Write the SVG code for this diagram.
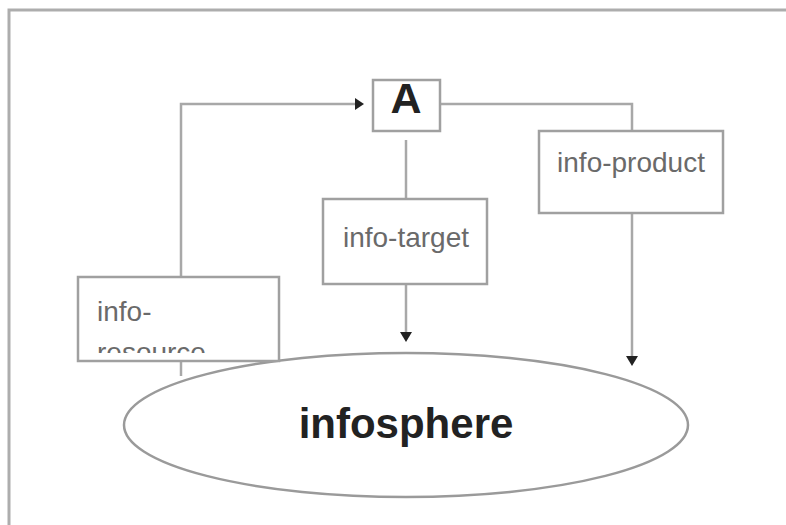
<svg xmlns="http://www.w3.org/2000/svg" width="786" height="525" viewBox="0 0 786 525">
  <defs>
    <style>
      .frame { fill: none; stroke: #adadad; stroke-width: 3; }
      .box { fill: #ffffff; stroke: #a0a0a0; stroke-width: 2.5; }
      .line { fill: none; stroke: #a8a8a8; stroke-width: 2.5; }
      .head { fill: #222222; }
      .lbl { font-family: "Liberation Sans", Arial, sans-serif; font-size: 28px; fill: #6a6a6a; }
      .big { font-family: "Liberation Sans", Arial, sans-serif; font-weight: bold; fill: #222222; }
    </style>
    <clipPath id="resClip">
      <rect x="80" y="278" width="197" height="75"/>
    </clipPath>
  </defs>
  <rect width="786" height="525" fill="#ffffff"/>
  <path class="frame" d="M9,525 V10 H786"/>

  <g id="connectors">
    <path class="line" d="M181,277 V104 H356"/>
    <polygon class="head" points="355,98 364,104 355,110"/>
    <path class="line" d="M440,104 H632 V131"/>
    <path class="line" d="M406,140 V199"/>
    <path class="line" d="M406,284 V333"/>
    <polygon class="head" points="400,332 412,332 406,342"/>
    <path class="line" d="M632,213 V358"/>
    <polygon class="head" points="626,356 638,356 632,366"/>
    <path class="line" d="M181,361 V376"/>
  </g>

  <g id="infosphere">
    <ellipse cx="406" cy="425" rx="282" ry="72" fill="#ffffff" stroke="#9a9a9a" stroke-width="2.5"/>
    <text class="big" x="406" y="438" font-size="42" text-anchor="middle">infosphere</text>
  </g>

  <g id="node-A">
    <rect class="box" x="373" y="80" width="67" height="51"/>
    <text class="big" x="406" y="113" font-size="43" text-anchor="middle">A</text>
  </g>

  <g id="info-product">
    <rect class="box" x="539" y="131" width="184" height="82"/>
    <text class="lbl" x="631" y="172" text-anchor="middle">info-product</text>
  </g>

  <g id="info-target">
    <rect class="box" x="323" y="199" width="164" height="85"/>
    <text class="lbl" x="406" y="247" text-anchor="middle">info-target</text>
  </g>

  <g id="info-resource">
    <rect class="box" x="78" y="277" width="201" height="84"/>
    <text class="lbl" x="97" y="321">info-</text>
    <text class="lbl" x="97" y="362" clip-path="url(#resClip)">resource</text>
  </g>
</svg>
